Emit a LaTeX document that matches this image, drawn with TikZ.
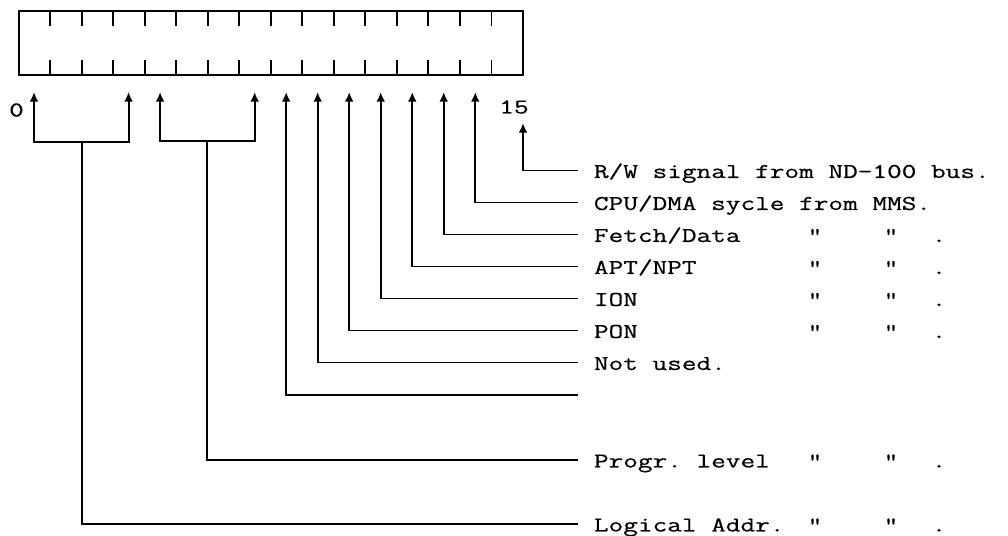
\documentclass[tikz,border=0pt]{standalone}
\usepackage{fontspec}
\newfontfamily\typer[FakeStretch=1.35,FakeBold=0.5]{Latin Modern Mono}
\usetikzlibrary{arrows.meta}
\frenchspacing

\begin{document}
\begin{tikzpicture}[x=0.02cm,y=-0.02cm,line width=1.1pt,
        bit/.style={-{Latex[length=5.5pt,width=5pt]}},
        txt/.style={font=\typer\fontsize{12}{14}\selectfont,text height=8.5pt,text depth=0pt,inner sep=0pt},
        lbl/.style={txt,anchor=west,inner xsep=0.3cm}]
            \useasboundingbox (0,0) rectangle (1008,536);
            % register, 16 cells
            \draw (18.7,11) rectangle (523,75);
            \foreach \k in {1,...,15}{
                \draw (18.7+31.52*\k,11) -- ++(0,15);
                \draw (18.7+31.52*\k,75) -- ++(0,-15);
            }
            \foreach \k in {0,3,4,5,6,7,8,9,10,11,12,13,14}
                \coordinate (t\k) at (34+31.52*\k,92);
            \coordinate (t15) at (523,123);
            \node[txt] (n0) at (16.5,109) {0};
            \node[txt] (n15) at (514,106) {15};
            % labels
            \node[lbl] (rw) at (578,170.5) {R/W signal from ND-100 bus.};
            \node[lbl] (cpu) at (578,202.5) {CPU/DMA sycle from MMS.};
            \node[lbl] (fetch) at (578,234.5) {Fetch/Data};
            \node[lbl] (apt) at (578,266.5) {APT/NPT};
            \node[lbl] (ion) at (578,298.5) {ION};
            \node[lbl] (pon) at (578,330.5) {PON};
            \node[lbl] (unused) at (578,362.5) {Not used.};
            \coordinate (spare) at (578,395);
            \node[lbl] (prog) at (578,460) {Progr. level};
            \node[lbl] (logic) at (578,524) {Logical Addr.};
            % ditto marks
            \foreach \r/\y in {fetch/234.5,apt/266.5,ion/298.5,pon/330.5,prog/460,logic/524}{
                \node[txt] (\r-a) at (815,\y) {"};
                \node[txt] (\r-b) at (891,\y) {"};
                \node[txt] (\r-c) at (939,\y) {.};
            }
            % single bits
            \draw[bit] (rw.west) -| (t15);
            \draw[bit] (cpu.west) -| (t14);
            \draw[bit] (fetch.west) -| (t13);
            \draw[bit] (apt.west) -| (t12);
            \draw[bit] (ion.west) -| (t11);
            \draw[bit] (pon.west) -| (t10);
            \draw[bit] (unused.west) -| (t9);
            \draw[bit] (spare) -| (t8);
            % bits 4-7 and 0-3
            \coordinate (f4) at (207,141);
            \draw (prog.west) -| (f4);
            \draw[bit] (f4) -| (t4);
            \draw[bit] (f4) -| (t7);
            \coordinate (f0) at (82,142);
            \draw (logic.west) -| (f0);
            \draw[bit] (f0) -| (t0);
            \draw[bit] (f0) -| (t3);
\end{tikzpicture}
\end{document}
